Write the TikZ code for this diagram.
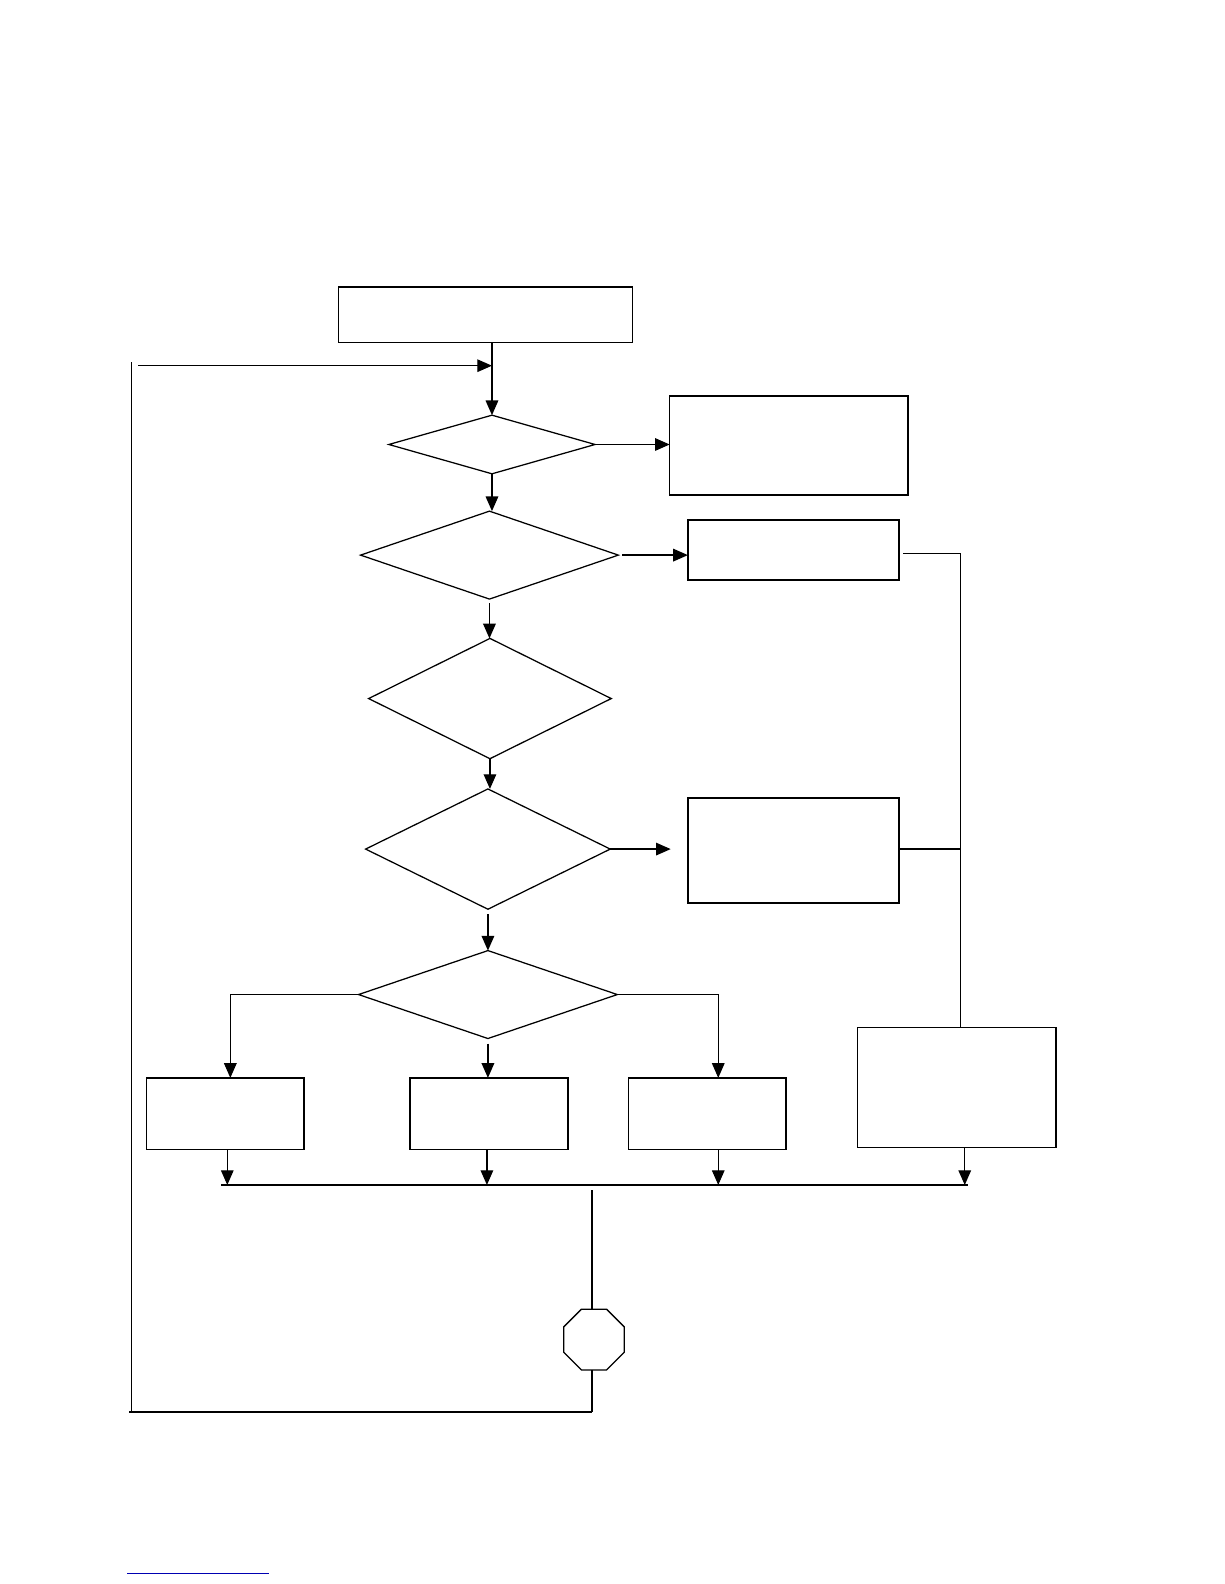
\documentclass[tikz,border=0pt]{standalone}
\usepackage{tikz}
\usetikzlibrary{shapes.geometric,arrows.meta}

\begin{document}
\begin{tikzpicture}[
  x=0.01in, y=-0.01in,
  box/.style={draw, line width=1.1pt, inner sep=0pt, outer sep=0pt},
  decision/.style={draw, diamond, line width=0.9pt, inner sep=0pt, outer sep=0pt},
  stopsign/.style={draw, regular polygon, regular polygon sides=8, minimum size=0.65in, line width=0.9pt, inner sep=0pt, outer sep=0pt},
  arrow/.style={-{Triangle[length=10.5pt, width=9pt]}, line width=0.9pt},
  link/.style={line width=0.8pt}
]
\useasboundingbox (0,0) rectangle (1212,1568);

% main column
\node[box, minimum width=2.91in, minimum height=0.55in] (start) at (480.5,311.5) {};
\node[decision, minimum width=2.04in, minimum height=0.58in] (q1) at (487,440) {};
\node[decision, minimum width=2.55in, minimum height=0.87in] (q2) at (484.5,549.5) {};
\node[decision, minimum width=2.40in, minimum height=1.19in] (q3) at (485,691.5) {};
\node[decision, minimum width=2.42in, minimum height=1.19in] (q4) at (483,840.5) {};
\node[decision, minimum width=2.56in, minimum height=0.87in] (q5) at (483,984.5) {};

% right side
\node[box, minimum width=2.36in, minimum height=0.98in] (r1) at (781,441) {};
\node[box, minimum width=2.09in, minimum height=0.59in] (r2) at (785.5,544.5) {};
\node[box, minimum width=2.09in, minimum height=1.04in] (r3) at (785.5,842) {};
\node[box, minimum width=1.96in, minimum height=1.19in] (r4) at (947,1076.5) {};

% bottom row
\node[box, minimum width=1.56in, minimum height=0.71in] (b1) at (223,1102.5) {};
\node[box, minimum width=1.56in, minimum height=0.71in] (b2) at (484,1102.5) {};
\node[box, minimum width=1.56in, minimum height=0.71in] (b3) at (700,1102.5) {};

\node[stopsign] (stop) at (588,1326) {};

\coordinate (loopin) at (137,362);
\coordinate (loopend) at (130,358);
\coordinate (loopcorner) at (130,1398);
\coordinate (rail) at (951,548);
\coordinate (busL) at (219,1173);
\coordinate (busR) at (958,1173);
\coordinate (tap) at (586,1178);

\draw[arrow] (start.south -| q1.north) -- (q1.north);
\draw[arrow] (loopin) -- (loopin -| q1.north);
\draw[arrow] (q1.east) -- (q1.east -| r1.west);
\draw[arrow] (q1.south) -- (q1.south |- q2.north);
\draw[arrow, shorten <=0.04in] (q2.east) -- (q2.east -| r2.west);
\draw[arrow, shorten <=0.04in] (q2.south) -- (q2.south |- q3.north);
\draw[arrow] (q3.south) -- (q3.south |- q4.north);
\draw[arrow, shorten >=0.17in] (q4.east) -- (q4.east -| r3.west);
\draw[arrow, shorten <=0.05in] (q4.south) -- (q4.south |- q5.north);
\draw[arrow, link] (q5.west) -| ([xshift=0.05in]b1.north);
\draw[arrow, shorten <=0.05in] (q5.south) -- (q5.south |- b2.north);
\draw[arrow, link] (q5.east) -| ([xshift=0.11in]b3.north);

\draw[link, shorten <=0.04in] (r2.east |- rail) -- (rail) -- (rail |- r4.north);
\draw[link, line width=1.1pt] (r3.east |- q4.east) -- (q4.east -| rail);

% collecting line
\draw[link] (busL) -- (busR);
\draw[arrow, link] ([xshift=0.02in]b1.south) -- ([xshift=0.02in]b1.south |- busL);
\draw[arrow] ([xshift=-0.02in]b2.south) -- ([xshift=-0.02in]b2.south |- busL);
\draw[arrow, link] ([xshift=0.11in]b3.south) -- ([xshift=0.11in]b3.south |- busL);
\draw[arrow] ([xshift=0.08in]r4.south) -- ([xshift=0.08in]r4.south |- busL);
\draw[link] (tap) -- (tap |- stop.north);

% back to the top
\draw[link] (tap |- stop.south) -- (tap |- loopcorner);
\draw[line width=1.4pt] (tap |- loopcorner) -- ([xshift=-0.02in]loopcorner);
\draw[link] (loopcorner) -- (loopend);

\draw[blue!70!black, line width=0.8pt] (126,1558) -- (266,1558);
\end{tikzpicture}
\end{document}
